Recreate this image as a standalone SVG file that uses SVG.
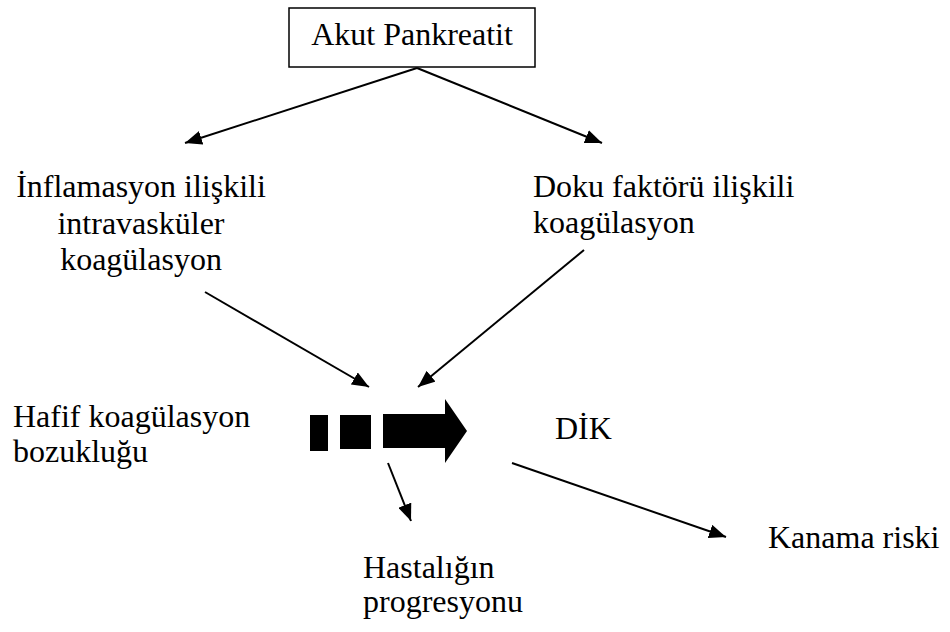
<svg xmlns="http://www.w3.org/2000/svg" width="950" height="632" viewBox="0 0 950 632" font-family="'Liberation Serif', 'Times New Roman', serif">
<style>
text{font-family:'Liberation Serif','Times New Roman',serif;font-size:32px;fill:#000}
.c{text-anchor:middle}
.ln{stroke:#000;stroke-width:2;fill:none;marker-end:url(#ah)}
</style>
<defs>
<marker id="ah" markerUnits="userSpaceOnUse" markerWidth="18" markerHeight="14" refX="17" refY="7" orient="auto">
<path d="M0,0 L17,7 L0,14 z" fill="#000"/>
</marker>
</defs>
<rect width="950" height="632" fill="#fff"/>
<g id="akut">
<rect x="289" y="8" width="246" height="59" fill="#fff" stroke="#000" stroke-width="1.5"/>
<text class="c" x="412" y="45" font-family="Liberation Serif">Akut Pankreatit</text>
</g>
<g id="inflamasyon">
<text class="c" x="141" y="197">İnflamasyon ilişkili</text>
<text class="c" x="141" y="234">intravasküler</text>
<text class="c" x="141" y="270">koagülasyon</text>
</g>
<g id="doku">
<text x="533" y="197">Doku faktörü ilişkili</text>
<text x="533" y="233">koagülasyon</text>
</g>
<g id="hafif">
<text x="13" y="427">Hafif koagülasyon</text>
<text x="13" y="462">bozukluğu</text>
</g>
<g id="big-arrow">
<rect x="310" y="415" width="18" height="36"/>
<rect x="340" y="415" width="31" height="34"/>
<path d="M383,414 H445 V399 L467,431 L445,463 V448 H383 z"/>
</g>
<g id="dik">
<text x="555" y="439">DİK</text>
</g>
<g id="hastalik">
<text x="363" y="578">Hastalığın</text>
<text x="363" y="612">progresyonu</text>
</g>
<g id="kanama">
<text x="768" y="548">Kanama riski</text>
</g>
<g id="connectors">
<line class="ln" x1="417" y1="68" x2="185" y2="143"/>
<line class="ln" x1="417" y1="68" x2="602" y2="143"/>
<line class="ln" x1="205" y1="292" x2="369" y2="387"/>
<line class="ln" x1="584" y1="250" x2="418" y2="387"/>
<line class="ln" x1="388" y1="463" x2="411" y2="521"/>
<line class="ln" x1="512" y1="463" x2="726" y2="537"/>
</g>
</svg>
